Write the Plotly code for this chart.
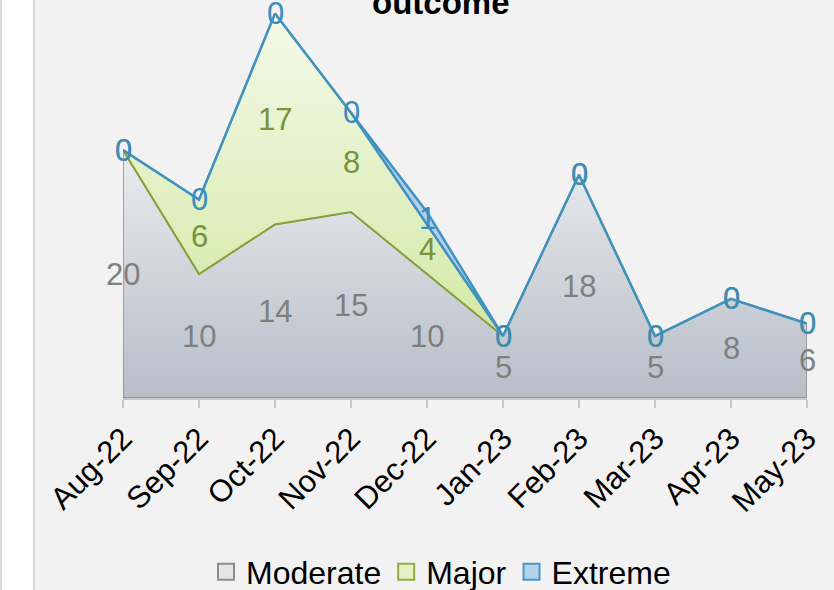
import plotly.graph_objects as go

months = ["Aug-22", "Sep-22", "Oct-22", "Nov-22", "Dec-22", "Jan-23", "Feb-23", "Mar-23", "Apr-23", "May-23"]
moderate = [20, 10, 14, 15, 10, 5, 18, 5, 8, 6]
major = [0, 6, 17, 8, 4, 0, 0, 0, 0, 0]
extreme = [0, 0, 0, 0, 1, 0, 0, 0, 0, 0]

idx = list(range(len(months)))
upper_mod = moderate
upper_maj = [a + b for a, b in zip(moderate, major)]
upper_ext = [a + b for a, b in zip(upper_maj, extreme)]

FONT = "Liberation Sans, Arial, sans-serif"
W, H = 834, 590
L, R, T, B = 123, 27, 0, 192
pw = W - L - R
ph = H - T - B

fig = go.Figure()

# Moderate polygon
fig.add_trace(go.Scatter(
    x=idx + [idx[-1], idx[0], idx[0]],
    y=upper_mod + [0, 0, upper_mod[0]],
    mode="lines", fill="toself",
    fillgradient=dict(type="vertical", colorscale=[[0, "#b7bec8"], [1, "#e9ebee"]]),
    line=dict(color="#8c8c8c", width=1.5),
    showlegend=False, hoverinfo="skip",
))
# Major polygon
fig.add_trace(go.Scatter(
    x=idx + idx[::-1] + [idx[0]],
    y=upper_maj + upper_mod[::-1] + [upper_maj[0]],
    mode="lines", fill="toself",
    fillgradient=dict(type="vertical", colorscale=[[0, "#d3e9a6"], [1, "#f4f9e8"]]),
    line=dict(color="#86a03a", width=2),
    showlegend=False, hoverinfo="skip",
))
# Extreme polygon
fig.add_trace(go.Scatter(
    x=idx + idx[::-1] + [idx[0]],
    y=upper_ext + upper_maj[::-1] + [upper_ext[0]],
    mode="lines", fill="toself",
    fillcolor="#b4d1e9",
    line=dict(color="#3f92c2", width=2.5),
    showlegend=False, hoverinfo="skip",
))

# Legend entries
for name, fc, lc in [("Moderate", "#e4e6ea", "#8c8c8c"),
                     ("Major", "#e4f2c6", "#8fae45"),
                     ("Extreme", "#b4d2ea", "#4a96c6")]:
    fig.add_trace(go.Scatter(
        x=[None], y=[None], mode="markers", name=name,
        marker=dict(symbol="square", size=16, color=fc, line=dict(color=lc, width=2)),
    ))

# Data labels (as annotations)
lab_font = 31
annotations = []
label_sets = [
    (moderate, [m / 2 for m in moderate], "#7f7f7f"),
    (major, [m + j / 2 for m, j in zip(moderate, major)], "#77933c"),
    (extreme, [u + e / 2 for u, e in zip(upper_maj, extreme)], "#3b8dbf"),
]
for vals, ys, col in label_sets:
    for xi, v, yv in zip(idx, vals, ys):
        annotations.append(dict(
            x=xi, y=yv, xref="x", yref="y", text=str(v), showarrow=False,
            xanchor="center", yanchor="middle", yshift=0,
            font=dict(family=FONT, size=lab_font, color=col),
        ))

annotations.append(dict(
    text="<b>outcome</b>", xref="paper", yref="paper",
    x=(440.5 - L) / pw, y=1, xanchor="center", yanchor="middle", yshift=-2,
    showarrow=False, font=dict(family=FONT, size=33, color="#000000"),
))

fig.update_layout(
    width=W, height=H,
    margin=dict(l=L, r=R, t=T, b=B, pad=0, autoexpand=False),
    paper_bgcolor="#f2f2f2", plot_bgcolor="#f2f2f2",
    font=dict(family=FONT, color="#000000"),
    xaxis=dict(
        range=[0, len(months) - 1], tickvals=idx, ticktext=months,
        tickangle=-45, tickfont=dict(family=FONT, size=31, color="#000000"),
        ticks="outside", ticklen=8, tickcolor="#c8c8c8", tickwidth=2,
        showline=True, linecolor="#c8c8c8", linewidth=2,
        showgrid=False, zeroline=False, fixedrange=True, automargin=False,
    ),
    yaxis=dict(
        range=[0, ph / 12.4], visible=False, showgrid=False, zeroline=False, fixedrange=True,
    ),
    legend=dict(
        orientation="h", x=(441 - L) / pw, xanchor="center",
        y=-(572 - ph) / ph, yanchor="middle",
        font=dict(family=FONT, size=32, color="#000000"),
        bgcolor="rgba(0,0,0,0)", itemsizing="trace", itemwidth=30,
    ),
    showlegend=True,
    annotations=annotations,
    shapes=[
        dict(type="rect", xref="paper", yref="paper",
             x0=(0 - L) / pw, x1=(34 - L) / pw, y0=-1, y1=2,
             fillcolor="#ffffff", line=dict(width=0), layer="below"),
        dict(type="line", xref="paper", yref="paper",
             x0=(34 - L) / pw, x1=(34 - L) / pw, y0=-1, y1=2,
             line=dict(color="#d9d9d9", width=2)),
        dict(type="line", xref="paper", yref="paper",
             x0=(1 - L) / pw, x1=(1 - L) / pw, y0=-1, y1=2,
             line=dict(color="#d9d9d9", width=2)),
    ],
)

fig.write_html(
    "out.html",
    config={"displayModeBar": False, "staticPlot": True},
    post_script="document.body.style.margin='0';document.body.style.padding='0';document.body.style.overflow='hidden';",
)
